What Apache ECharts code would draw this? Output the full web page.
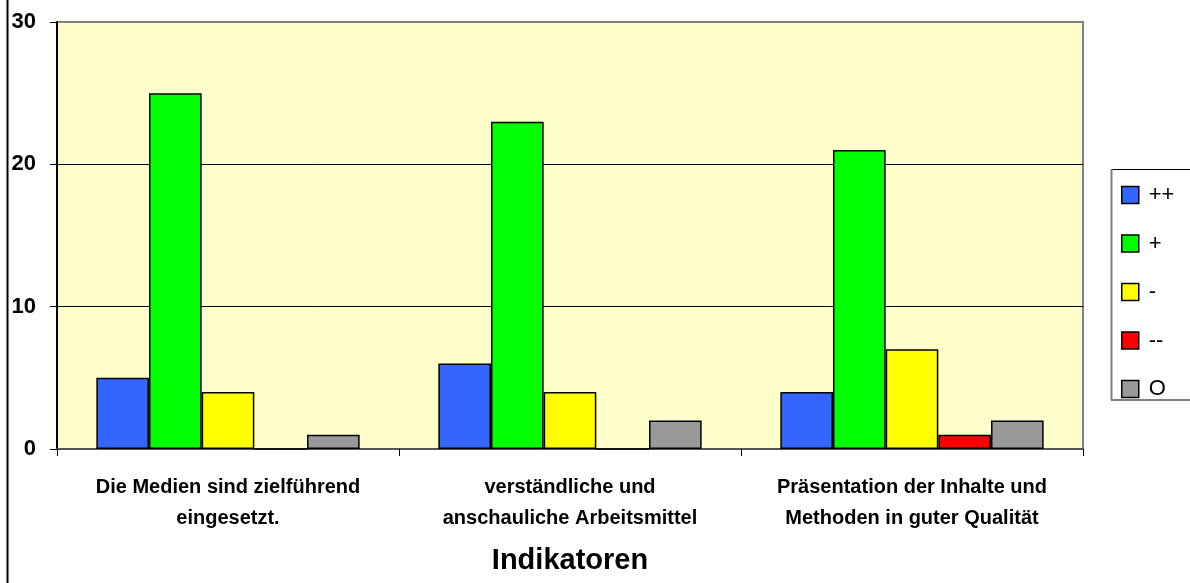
<!DOCTYPE html>
<html><head><meta charset="utf-8">
<script src="https://cdn.jsdelivr.net/npm/echarts@6/dist/echarts.min.js"></script>
<style>html,body{margin:0;padding:0;background:#fff}#c{width:1190px;height:583px}</style>
</head><body><div id="c"></div>
<script>
const categories = ["Die Medien sind zielführend\neingesetzt.", "verständliche und\nanschauliche Arbeitsmittel", "Präsentation der Inhalte und\nMethoden in guter Qualität"];
const seriesNames = ["++", "+", "-", "--", "O"];
const valuesPP = [5, 6, 4];
const valuesP = [25, 23, 21];
const valuesM = [4, 4, 7];
const valuesMM = [0, 0, 1];
const valuesO = [1, 2, 2];
const yTicks = [0, 10, 20, 30];
const colors = ["#3366FF", "#00FF00", "#FFFF00", "#FF0000", "#999999"];
const seriesData = [valuesPP, valuesP, valuesM, valuesMM, valuesO];

const chart = echarts.init(document.getElementById('c'));
chart.setOption({
  animation: false,
  textStyle: { fontFamily: 'Arial, "Liberation Sans", sans-serif' },
  graphic: [
    { type: 'line', shape: { x1: 7.5, y1: 0, x2: 7.5, y2: 583 }, style: { stroke: '#000', lineWidth: 2 } },
    { type: 'rect', shape: { x: 1111.5, y: 169.5, width: 100, height: 230 }, style: { fill: '#fff', stroke: '#000', lineWidth: 1 }, z: 0 },
    { type: 'line', shape: { x1: 1111.5, y1: 169, x2: 1111.5, y2: 400 }, style: { stroke: '#808080', lineWidth: 2 }, z: 1 },
    { type: 'line', shape: { x1: 1111, y1: 400, x2: 1190, y2: 400 }, style: { stroke: '#808080', lineWidth: 2 }, z: 1 }
  ],
  grid: { left: 57, right: 107, top: 22, bottom: 134, show: true, backgroundColor: '#FFFFCC', borderColor: '#808080', borderWidth: 2 },
  legend: {
    orient: 'vertical', left: 1116, top: 179, itemWidth: 17, itemHeight: 17, itemGap: 26.5,
    data: seriesNames.map(n => ({ name: n, icon: 'rect' })),
    textStyle: { fontSize: 22, color: '#000', fontFamily: 'Arial, "Liberation Sans", sans-serif', padding: [0, 0, 0, 5], lineHeight: 20 },
    itemStyle: { borderColor: '#000', borderWidth: 1.5 }
  },
  xAxis: {
    type: 'category', data: categories,
    name: 'Indikatoren', nameLocation: 'middle', nameGap: 97,
    nameTextStyle: { fontSize: 29, fontWeight: 'bold', color: '#000' },
    axisLine: { lineStyle: { color: '#555', width: 2 } },
    axisTick: { show: true, length: 7, lineStyle: { color: '#000' } },
    axisLabel: { fontSize: 20, fontWeight: 'bold', color: '#000', margin: 23, lineHeight: 31, interval: 0 }
  },
  yAxis: {
    type: 'value', min: 0, max: 30, interval: 10,
    axisLine: { show: true, lineStyle: { color: '#000', width: 2 } },
    axisTick: { show: true, length: 7, lineStyle: { color: '#000' } },
    axisLabel: { fontSize: 22, fontWeight: 'bold', color: '#000', margin: 21 },
    splitLine: { show: true, lineStyle: { color: ['#555', '#000', '#000', '#808080'], width: 1 } }
  },
  series: seriesNames.map((n, i) => ({
    name: n, type: 'bar', data: seriesData[i],
    barGap: '0%', barCategoryGap: '23%',
    itemStyle: { color: colors[i], borderColor: '#000', borderWidth: 1.5 }
  }))
});
</script></body></html>
